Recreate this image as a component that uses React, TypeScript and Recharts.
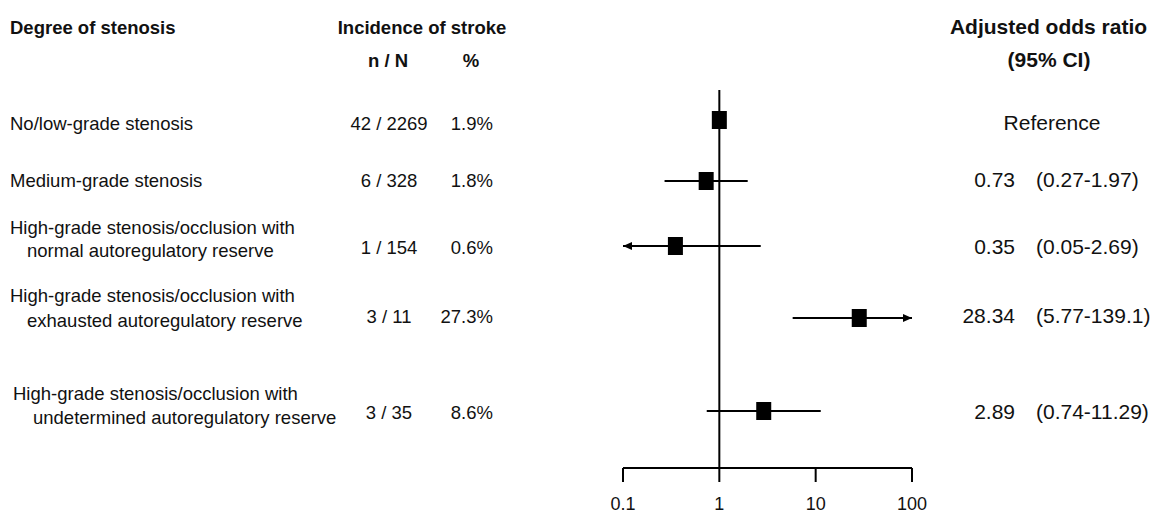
import { ScatterChart, Scatter, XAxis, YAxis, ReferenceLine } from 'recharts'

const groups = [
  ['No/low-grade stenosis'],
  ['Medium-grade stenosis'],
  ['High-grade stenosis/occlusion with', 'normal autoregulatory reserve'],
  ['High-grade stenosis/occlusion with', 'exhausted autoregulatory reserve'],
  ['High-grade stenosis/occlusion with', 'undetermined autoregulatory reserve'],
]
const events = [42, 6, 1, 3, 3]
const totals = [2269, 328, 154, 11, 35]
const incidence = [1.9, 1.8, 0.6, 27.3, 8.6]
const oddsRatio = [1, 0.73, 0.35, 28.34, 2.89]
const ciLow = [null, 0.27, 0.05, 5.77, 0.74]
const ciHigh = [null, 1.97, 2.69, 139.1, 11.29]
const xTicks = [0.1, 1, 10, 100]

// layout: row centres in plot units (plot is 378px tall, top at y=90)
const rowY = [30, 91, 156, 228, 321]
const labelLines = [
  [{ x: 10, y: 123 }],
  [{ x: 10, y: 180 }],
  [{ x: 10, y: 227 }, { x: 27, y: 250 }],
  [{ x: 10, y: 295 }, { x: 27, y: 320 }],
  [{ x: 13, y: 393 }, { x: 33, y: 417 }],
]
const valueY = [123, 180, 247, 316, 412]

const W = 1155
const H = 515
const XMIN = 0.1
const XMAX = 100
const font = '"Liberation Sans", Arial, sans-serif'
const ink = '#111'

const points = oddsRatio.map((v, i) => ({ x: v, y: rowY[i] }))

const Square = (props: any) => {
  const { cx, cy } = props
  if (cx == null || cy == null) return <g />
  return <rect x={cx - 7.5} y={cy - 9} width={15} height={18} fill="#000" />
}

const Arrow = (props: any) => {
  const { cx, cy, payload } = props
  if (!payload || !payload.clip) return <g />
  const d = payload.dir
  return (
    <polygon
      points={`${cx},${cy} ${cx - d * 9},${cy - 4} ${cx - d * 9},${cy + 4}`}
      fill="#000"
    />
  )
}

function T({ x, y, anchor = 'start', bold = false, size = 18.5, children }: any) {
  return (
    <text
      x={x}
      y={y + size * 0.355}
      textAnchor={anchor}
      fontFamily={font}
      fontSize={size}
      fontWeight={bold ? 'bold' : 'normal'}
      fill={ink}
    >
      {children}
    </text>
  )
}

export default function App() {
  return (
    <div style={{ position: 'absolute', left: 0, top: 0, width: W, height: H, background: '#fff' }}>
      <ScatterChart width={W} height={H} margin={{ top: 90, right: 243, bottom: 0, left: 623 }}>
        <XAxis
          type="number"
          dataKey="x"
          scale="log"
          domain={[XMIN, XMAX]}
          ticks={xTicks}
          allowDataOverflow
          height={47}
          tickSize={14}
          tickMargin={15}
          axisLine={{ stroke: '#000', strokeWidth: 2 }}
          tickLine={{ stroke: '#000', strokeWidth: 2 }}
          tick={{ fill: ink, fontSize: 18, fontFamily: font }}
        />
        <YAxis type="number" dataKey="y" domain={[0, 378]} reversed hide />
        <ReferenceLine x={1} stroke="#000" strokeWidth={2} />
        {oddsRatio.map((_, i) => {
          const lo = ciLow[i]
          const hi = ciHigh[i]
          if (lo == null || hi == null) return null
          const seg = [
            { x: Math.max(lo, XMIN), y: rowY[i], clip: lo < XMIN, dir: -1 },
            { x: Math.min(hi, XMAX), y: rowY[i], clip: hi > XMAX, dir: 1 },
          ]
          return (
            <Scatter
              key={'ci' + i}
              data={seg}
              line={{ stroke: '#000', strokeWidth: 2 }}
              shape={Arrow}
              isAnimationActive={false}
            />
          )
        })}
        <Scatter data={points} shape={Square} isAnimationActive={false} />
      </ScatterChart>
      <svg width={W} height={H} style={{ position: 'absolute', left: 0, top: 0, pointerEvents: 'none' }}>
        <T x={10} y={27} bold>Degree of stenosis</T>
        <T x={422} y={27} anchor="middle" bold>Incidence of stroke</T>
        <T x={388} y={60} anchor="middle" bold>n / N</T>
        <T x={471} y={60} anchor="middle" bold>%</T>
        <T x={1048.5} y={27} anchor="middle" bold size={21}>Adjusted odds ratio</T>
        <T x={1049} y={60} anchor="middle" bold size={21}>(95% CI)</T>
        {groups.map((lines, i) =>
          lines.map((s, j) => (
            <T key={`l${i}-${j}`} x={labelLines[i][j].x} y={labelLines[i][j].y}>{s}</T>
          ))
        )}
        {events.map((n, i) => (
          <T key={'n' + i} x={389} y={valueY[i]} anchor="middle">{`${n} / ${totals[i]}`}</T>
        ))}
        {incidence.map((p, i) => (
          <T key={'p' + i} x={493} y={valueY[i]} anchor="end">{`${p.toFixed(1)}%`}</T>
        ))}
        {oddsRatio.map((v, i) =>
          ciLow[i] == null ? (
            <T key={'o' + i} x={1052} y={valueY[i]} anchor="middle" size={21}>Reference</T>
          ) : (
            <g key={'o' + i}>
              <T x={1015} y={valueY[i]} anchor="end" size={21}>{v.toFixed(2)}</T>
              <T x={1036} y={valueY[i]} size={21}>{`(${ciLow[i]}-${ciHigh[i]})`}</T>
            </g>
          )
        )}
      </svg>
    </div>
  )
}
